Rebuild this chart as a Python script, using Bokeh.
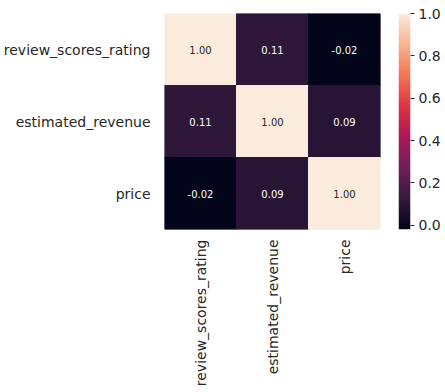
import numpy as np
from bokeh.plotting import figure
from bokeh.layouts import row
from bokeh.models import ColumnDataSource, LinearColorMapper, FixedTicker, PrintfTickFormatter
from bokeh.transform import transform
from bokeh.core.properties import value
from bokeh.embed import file_html
from bokeh.resources import INLINE

labels = ["review_scores_rating", "estimated_revenue", "price"]
corr = [
    [1.00, 0.11, -0.02],
    [0.11, 1.00, 0.09],
    [-0.02, 0.09, 1.00],
]
cbar_ticks = [0.0, 0.2, 0.4, 0.6, 0.8, 1.0]

# rocket-like colormap
stops = [(0.0, "#03051a"), (1/7, "#35193e"), (2/7, "#701f57"), (3/7, "#ad1759"),
         (4/7, "#e13342"), (5/7, "#f37651"), (6/7, "#f6b48f"), (1.0, "#faebdd")]
def hex2rgb(h):
    return [int(h[i:i+2], 16) for i in (1, 3, 5)]
pos = [s[0] for s in stops]
rgbs = np.array([hex2rgb(s[1]) for s in stops], dtype=float)
palette = []
for t in np.linspace(0, 1, 256):
    c = [np.interp(t, pos, rgbs[:, k]) for k in range(3)]
    palette.append("#%02x%02x%02x" % tuple(int(round(v)) for v in c))

xs, ys, vals, txt, tcol = [], [], [], [], []
vmin = min(min(r) for r in corr)
vmax = max(max(r) for r in corr)
for i, rname in enumerate(labels):
    for j, cname in enumerate(labels):
        v = corr[i][j]
        xs.append(cname); ys.append(rname); vals.append(v)
        txt.append("%.2f" % v)
        tcol.append("#262626" if (v - vmin) / (vmax - vmin) > 0.6 else "#ffffff")
src = ColumnDataSource(dict(x=xs, y=ys, v=vals, t=txt, c=tcol))

mapper = LinearColorMapper(palette=palette, low=vmin, high=vmax)

p = figure(x_range=labels, y_range=list(reversed(labels)),
           frame_width=216, frame_height=216,
           min_border_left=154, min_border_top=13, min_border_right=18, min_border_bottom=0,
           output_backend="svg", toolbar_location=None, tools="")
p.rect(x="x", y="y", width=1, height=1, source=src,
       fill_color=transform("v", mapper), line_color=transform("v", mapper), line_width=1)
p.text(x="x", y="y", text="t", source=src, text_color="c",
       text_align="center", text_baseline="middle", text_font_size="10px",
       text_font=value("DejaVu Sans"))

p.outline_line_color = None
p.grid.grid_line_color = None
for ax in (p.xaxis[0], p.yaxis[0]):
    ax.axis_line_color = None
    ax.major_tick_line_color = None
    ax.minor_tick_line_color = None
    ax.major_label_text_font = "DejaVu Sans"
    ax.major_label_text_font_size = "14px"
    ax.major_label_text_color = "#262626"
p.yaxis.major_label_standoff = 8
p.xaxis.major_label_standoff = 4
p.xaxis.major_label_orientation = np.pi / 2

# colorbar as a separate narrow figure
cb = figure(x_range=(0, 1), y_range=(vmin, vmax), frame_width=12, frame_height=216,
            min_border_left=0, min_border_top=13, min_border_right=2, min_border_bottom=12,
            y_axis_location="right", output_backend="svg", toolbar_location=None, tools="")
grad = np.linspace(vmin, vmax, 256).reshape(256, 1)
cb.image(image=[grad], x=0, y=vmin, dw=1, dh=vmax - vmin, color_mapper=mapper)
cb.xaxis.visible = False
cb.grid.grid_line_color = None
cb.outline_line_color = None
ya = cb.yaxis[0]
ya.ticker = FixedTicker(ticks=cbar_ticks)
ya.formatter = PrintfTickFormatter(format="%.1f")
ya.axis_line_color = None
ya.major_tick_out = 4
ya.major_tick_in = 0
ya.major_tick_line_color = "#262626"
ya.minor_tick_line_color = None
ya.major_label_standoff = 4
ya.major_label_text_font = "DejaVu Sans"
ya.major_label_text_font_size = "14px"
ya.major_label_text_color = "#262626"

layout = row(p, cb, spacing=0)
open("out.html", "w").write(file_html(layout, INLINE))
